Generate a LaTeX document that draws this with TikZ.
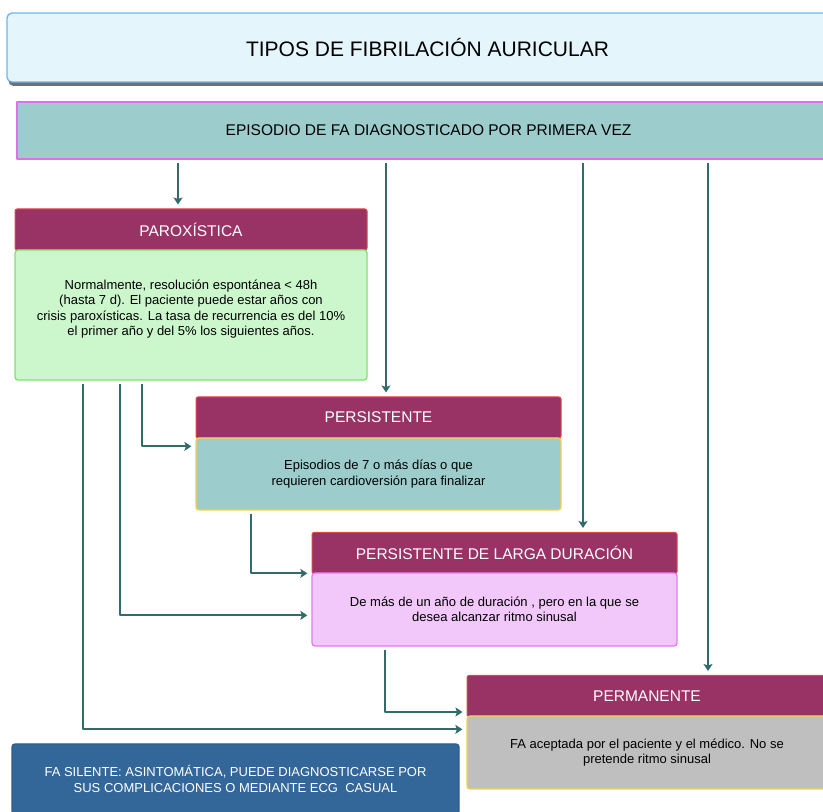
\documentclass[tikz,border=0pt]{standalone}
\usepackage{fontspec}
\setmainfont{Liberation Sans}
\usepackage{tikz}
\usetikzlibrary{arrows.meta,shapes,shadows}

\begin{document}
\begin{tikzpicture}[>={Stealth[length=7bp,width=9bp,inset=1.5bp]},line join=bevel,
  head/.style={draw=headline,fill=headfill,text=white,minimum height=41bp,inner sep=0bp,rounded corners=2bp,line width=1bp,font=\fontsize{15.5bp}{18bp}\selectfont},
  body/.style={align=center,inner sep=0bp,rounded corners=3bp,line width=1.3bp,font=\fontsize{13bp}{15.5bp}\selectfont},
  link/.style={->,draw=linkcolor,line width=1.7bp,shorten <=3bp,shorten >=4bp}]
%%
\definecolor{headfill}{rgb}{0.60,0.20,0.40};
\definecolor{headline}{rgb}{0.88,0.28,0.28};
\definecolor{linkcolor}{rgb}{0.20,0.42,0.42};
  \path[use as bounding box] (0bp,0bp) rectangle (823bp,812bp);
  \definecolor{fillcolor}{rgb}{0.90,0.96,0.99};
  \definecolor{linecolor}{rgb}{0.43,0.71,0.94};
  \node (title) at (427.5bp,764.5bp) [draw=linecolor,fill=fillcolor,line width=1.3bp,rounded corners=5bp,minimum width=841bp,minimum height=69bp,inner sep=0bp,drop shadow={shadow xshift=1.5bp,shadow yshift=-4bp,fill=black!70,opacity=0.8},font=\fontsize{21bp}{24bp}\selectfont] {TIPOS DE FIBRILACIÓN AURICULAR};
  \definecolor{fillcolor}{rgb}{0.61,0.80,0.80};
  \definecolor{linecolor}{rgb}{0.88,0.44,0.91};
  \node (episodio) at (428.5bp,681.5bp) [draw=linecolor,fill=fillcolor,line width=1.5bp,minimum width=823bp,minimum height=57bp,inner sep=0bp,font=\fontsize{15.5bp}{18bp}\selectfont] {EPISODIO DE FA DIAGNOSTICADO POR PRIMERA VEZ};
  \node (parox_head) at (191bp,582.5bp) [head,minimum width=352bp] {PAROXÍSTICA};
  \definecolor{fillcolor}{rgb}{0.80,0.97,0.80};
  \definecolor{linecolor}{rgb}{0.50,0.88,0.44};
  \node (parox_body) at (191bp,497bp) [body,draw=linecolor,fill=fillcolor,minimum width=352bp,minimum height=130bp] {Normalmente, resolución espontánea < 48h\\(hasta 7 d). El paciente puede estar años con\\crisis paroxísticas. La tasa de recurrencia es del 10\%\\el primer año y del 5\% los siguientes años.\\[-1bp]};
  \node (pers_head) at (378.5bp,394.5bp) [head,minimum width=365bp] {PERSISTENTE};
  \definecolor{fillcolor}{rgb}{0.61,0.80,0.80};
  \definecolor{linecolor}{rgb}{0.95,0.82,0.29};
  \node (pers_body) at (378.5bp,338bp) [body,draw=linecolor,fill=fillcolor,minimum width=365bp,minimum height=72bp] {Episodios de 7 o más días o que\\requieren cardioversión para finalizar};
  \node (larga_head) at (494.5bp,259bp) [head,minimum width=365bp] {PERSISTENTE DE LARGA DURACIÓN};
  \definecolor{fillcolor}{rgb}{0.95,0.78,0.98};
  \definecolor{linecolor}{rgb}{0.89,0.48,0.94};
  \node (larga_body) at (494.5bp,202.5bp) [body,draw=linecolor,fill=fillcolor,minimum width=365bp,minimum height=73bp] {De más de un año de duración , pero en la que se\\desea alcanzar ritmo sinusal};
  \node (perm_head) at (647bp,116bp) [head,minimum width=360bp] {PERMANENTE};
  \definecolor{fillcolor}{rgb}{0.75,0.75,0.75};
  \definecolor{linecolor}{rgb}{0.95,0.82,0.29};
  \node (perm_body) at (647bp,59.5bp) [body,draw=linecolor,fill=fillcolor,minimum width=360bp,minimum height=73bp] {FA aceptada por el paciente y el médico. No se\\pretende ritmo sinusal};
  \definecolor{fillcolor}{rgb}{0.20,0.40,0.60};
  \definecolor{linecolor}{rgb}{0.18,0.37,0.56};
  \node (silente) at (235.5bp,33bp) [body,draw=linecolor,fill=fillcolor,text=white,minimum width=447bp,minimum height=70bp] {FA SILENTE: ASINTOMÁTICA, PUEDE DIAGNOSTICARSE POR\\SUS COMPLICACIONES O MEDIANTE ECG\ \ CASUAL};
  \draw [link] (178bp,0 |- episodio.south) -- (178bp,0 |- parox_head.north);
  \draw [link] (386bp,0 |- episodio.south) -- (386bp,0 |- pers_head.north);
  \draw [link] (583bp,0 |- episodio.south) -- (583bp,0 |- larga_head.north);
  \draw [link] (708bp,0 |- episodio.south) -- (708bp,0 |- perm_head.north);
  \draw [link] (142bp,0 |- parox_body.south) |- ([yshift=-9bp]pers_body.north west);
  \draw [link] (120bp,0 |- parox_body.south) |- ([yshift=-43bp]larga_body.north west);
  \draw [link] (83bp,0 |- parox_body.south) |- ([yshift=-14bp]perm_body.north west);
  \draw [link] (251bp,0 |- pers_body.south) |- ([yshift=-1bp]larga_body.north west);
  \draw [link] (385bp,0 |- larga_body.south) |- ([yshift=5bp]perm_head.south west);
%
\end{tikzpicture}
\end{document}
